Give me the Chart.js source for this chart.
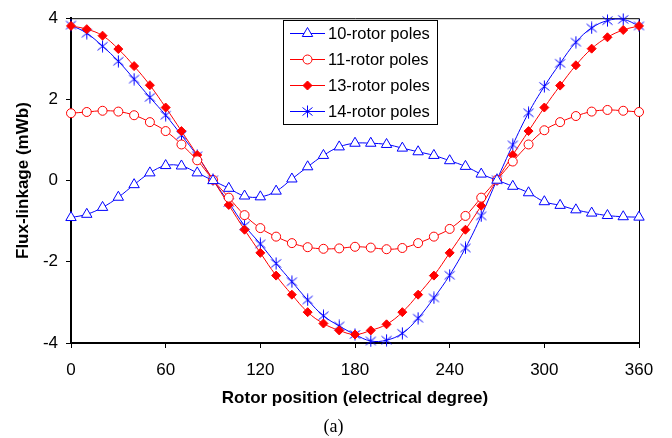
<!DOCTYPE html>
<html>
<head>
<meta charset="utf-8">
<script src="https://cdn.jsdelivr.net/npm/chart.js@4"></script>
<style>
  body { margin: 0; background: #fff; }
  canvas { display: block; }
</style>
</head>
<body>
<canvas id="flux-chart" width="672" height="438"></canvas>
<script>
const angles = [0, 10, 20, 30, 40, 50, 60, 70, 80, 90, 100, 110, 120, 130, 140, 150, 160, 170, 180,
  190, 200, 210, 220, 230, 240, 250, 260, 270, 280, 290, 300, 310, 320, 330, 340, 350, 360]

const poles10 = [-0.91, -0.83, -0.66, -0.41, -0.10, 0.19, 0.37, 0.36, 0.19, 0.00, -0.19, -0.38, -0.40,
  -0.26, 0.04, 0.34, 0.62, 0.83, 0.92, 0.92, 0.89, 0.80, 0.71, 0.62, 0.49, 0.35, 0.16, 0.01,
  -0.14, -0.30, -0.52, -0.61, -0.72, -0.80, -0.86, -0.89, -0.90]
const poles11 = [1.66, 1.69, 1.72, 1.70, 1.61, 1.44, 1.22, 0.89, 0.50, 0.02, -0.42, -0.85, -1.17,
  -1.38, -1.54, -1.64, -1.68, -1.67, -1.63, -1.65, -1.69, -1.66, -1.54, -1.38, -1.19, -0.87, -0.42,
  0.02, 0.47, 0.89, 1.24, 1.44, 1.59, 1.70, 1.74, 1.72, 1.69]
const poles13 = [3.81, 3.73, 3.57, 3.24, 2.82, 2.35, 1.80, 1.22, 0.63, 0.02, -0.60, -1.21, -1.78,
  -2.34, -2.81, -3.24, -3.52, -3.69, -3.79, -3.69, -3.54, -3.24, -2.81, -2.34, -1.78, -1.21, -0.62,
  0.02, 0.63, 1.22, 1.80, 2.34, 2.84, 3.25, 3.53, 3.71, 3.81]
const poles14 = [3.83, 3.63, 3.31, 2.94, 2.50, 2.05, 1.61, 1.12, 0.61, 0.02, -0.54, -1.11, -1.56,
  -2.04, -2.49, -2.94, -3.33, -3.58, -3.79, -3.95, -3.93, -3.76, -3.39, -2.89, -2.33, -1.66, -0.87,
  0.02, 0.88, 1.67, 2.32, 2.89, 3.41, 3.76, 3.94, 3.97, 3.81]

const seriesNames = ['10-rotor poles', '11-rotor poles', '13-rotor poles', '14-rotor poles']
const xTicks = [0, 60, 120, 180, 240, 300, 360]
const yTicks = [-4, -2, 0, 2, 4]
const caption = '(a)'

const sans = 'Arial, "Liberation Sans", sans-serif'

// excel style asterisk marker
function asterisk() {
    const c = document.createElement('canvas')
    c.width = 13
    c.height = 13
    const g = c.getContext('2d')
    g.strokeStyle = '#0000ff'
    g.lineWidth = 1
    g.beginPath()
    g.moveTo(6.5, 0.5); g.lineTo(6.5, 12.5)
    g.moveTo(1.5, 2.5); g.lineTo(11.5, 10.5)
    g.moveTo(11.5, 2.5); g.lineTo(1.5, 10.5)
    g.stroke()
    return c
}
const starMark = asterisk()

function pts(arr) {
    return angles.map((a, i) => ({ x: a, y: arr[i] }))
}

function series(label, arr, color, style, radius, fill) {
    return {
        label: label,
        data: pts(arr),
        borderColor: color,
        borderWidth: 1,
        tension: 0.4,
        pointStyle: style,
        pointRadius: radius,
        pointHoverRadius: radius,
        pointBorderColor: color,
        pointBackgroundColor: fill,
        pointBorderWidth: 1,
        clip: false,
    }
}

const frame = {
    id: 'frame',
    beforeDatasetsDraw(chart) {
        const { left, top, right, bottom } = chart.chartArea
        const ctx = chart.ctx
        ctx.save()
        ctx.strokeStyle = '#000'
        ctx.lineWidth = 1
        ctx.beginPath()
        ctx.moveTo(left, top + 0.5)
        ctx.lineTo(right + 0.5, top + 0.5)
        ctx.lineTo(right + 0.5, bottom)
        ctx.stroke()
        ctx.restore()
    }
}

const legendBox = {
    id: 'legendBox',
    afterDraw(chart) {
        const ctx = chart.ctx
        ctx.save()
        ctx.fillStyle = '#fff'
        ctx.fillRect(283.5, 20.5, 154, 104)
        ctx.strokeStyle = '#000'
        ctx.lineWidth = 1
        ctx.strokeRect(283.5, 20.5, 154, 104)
        chart.data.datasets.forEach((ds, i) => {
            const y = 33.5 + i * 26
            ctx.strokeStyle = ds.borderColor
            ctx.lineWidth = 1
            ctx.beginPath()
            ctx.moveTo(290, y)
            ctx.lineTo(325, y)
            ctx.stroke()
            ctx.fillStyle = ds.pointBackgroundColor
            Chart.helpers.drawPoint(ctx, {
                pointStyle: ds.pointStyle, radius: ds.pointRadius, rotation: 0, borderWidth: 1
            }, 307.5, y)
            ctx.fillStyle = '#000'
            ctx.font = '16.5px ' + sans
            ctx.textBaseline = 'middle'
            ctx.textAlign = 'left'
            ctx.fillText(ds.label, 328, y + 1)
        })
        // figure caption under the axis title
        ctx.font = '18px "Times New Roman", "Liberation Serif", serif'
        ctx.textAlign = 'center'
        ctx.fillText(caption, 333.5, 427)
        ctx.restore()
    }
}

const ctx = document.querySelector('#flux-chart')
new Chart(ctx, {
    type: 'line',
    data: {
        datasets: [
            series(seriesNames[0], poles10, '#0000ff', 'triangle', 6, '#fff'),
            series(seriesNames[1], poles11, '#ff0000', 'circle', 4.5, '#fff'),
            series(seriesNames[2], poles13, '#ff0000', 'rectRot', 4.5, '#ff0000'),
            series(seriesNames[3], poles14, '#0000ff', starMark, 6, '#0000ff'),
        ]
    },
    options: {
        responsive: false,
        animation: false,
        events: [],
        layout: { padding: { top: 14, right: 33, left: 0, bottom: 0 } },
        plugins: {
            legend: { display: false },
            tooltip: { enabled: false },
        },
        scales: {
            x: {
                type: 'linear',
                min: 0,
                max: 360,
                afterBuildTicks: s => { s.ticks = xTicks.map(v => ({ value: v })) },
                afterFit: s => { s.height = 95 },
                grid: { display: true, drawOnChartArea: false, drawTicks: true, tickLength: 5, color: '#000', tickColor: '#000' },
                border: { display: true, color: '#000', width: 2 },
                ticks: { color: '#000', font: { family: sans, size: 17 }, padding: 12, maxRotation: 0 },
                title: {
                    display: true,
                    text: 'Rotor position (electrical degree)',
                    color: '#000',
                    font: { family: sans, size: 17, weight: 'bold' },
                    padding: { top: 0, bottom: 29 },
                },
            },
            y: {
                min: -4,
                max: 4,
                afterBuildTicks: s => { s.ticks = yTicks.map(v => ({ value: v })) },
                afterFit: s => { s.width = 71 },
                grid: { display: true, drawOnChartArea: false, drawTicks: true, tickLength: 5, color: '#000', tickColor: '#000' },
                border: { display: true, color: '#000', width: 2 },
                ticks: { color: '#000', font: { family: sans, size: 17 }, padding: 8 },
                title: {
                    display: true,
                    text: 'Flux-linkage (mWb)',
                    color: '#000',
                    font: { family: sans, size: 17, weight: 'bold' },
                    padding: { top: 13, bottom: 0 },
                },
            },
        },
    },
    plugins: [frame, legendBox],
})
</script>
</body>
</html>
